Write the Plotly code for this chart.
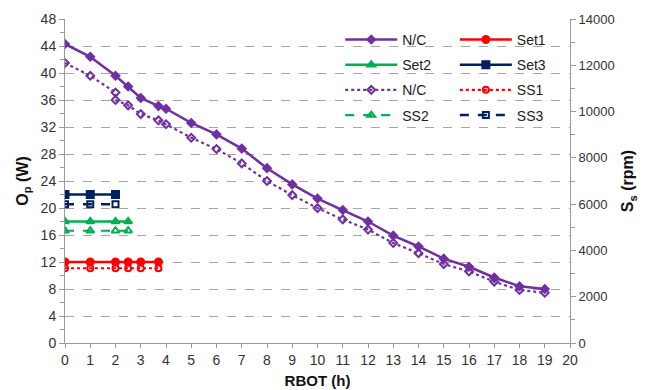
import plotly.graph_objects as go

# ---- data ----
nc_p_x = [0, 1, 2, 2.5, 3, 3.7, 4, 5, 6, 7, 8, 9, 10, 11, 12, 13, 14, 15, 16, 17, 18, 19]
nc_p_y = [44.3, 42.4, 39.6, 38.0, 36.3, 35.1, 34.7, 32.6, 30.9, 28.8, 25.9, 23.5, 21.4,
          19.7, 18.0, 15.9, 14.3, 12.5, 11.3, 9.7, 8.4, 8.0]

nc_s_x = [0, 1, 2, 2, 2.5, 3, 3.7, 4, 5, 6, 7, 8, 9, 10, 11, 12, 13, 14, 15, 16, 17, 18, 19]
nc_s_y = [12100, 11550, 10820, 10500, 10270, 9890, 9620, 9450, 8870, 8380, 7760, 7000, 6390,
          5830, 5340, 4900, 4320, 3880, 3410, 3090, 2650, 2290, 2170]

set1_x = [0, 1, 2, 2.5, 3, 3.7]
set1_y = [12, 12, 12, 12, 12, 12]
set2_x = [0, 1, 2, 2.5]
set2_y = [18, 18, 18, 18]
set3_x = [0, 1, 2]
set3_y = [22, 22, 22]

ss1_x = [0, 1, 2, 2.5, 3, 3.7]
ss1_y = [3230, 3230, 3230, 3230, 3230, 3230]
ss2_x = [0, 1, 2, 2.5]
ss2_y = [4850, 4850, 4850, 4850]
ss3_x = [0, 1, 2]
ss3_y = [5990, 5990, 5990]

x_ticks = list(range(0, 21))
y_ticks = list(range(0, 49, 4))
y2_ticks = list(range(0, 14001, 2000))

PURPLE = "#7030A0"
RED = "#FF0000"
GREEN = "#00B050"
NAVY = "#002060"

fig = go.Figure()

def add(name, x, y, color, dash, symbol, size, yaxis, legend, group, width=2.5):
    fig.add_trace(go.Scatter(
        x=x, y=y, name=name, mode="lines+markers", yaxis=yaxis,
        line=dict(color=color, width=width, dash=dash),
        marker=dict(symbol=symbol, size=size, color=color,
                    line=dict(color=color, width=2)),
        legend=legend, legendgroup=group, showlegend=True))

# column 1
add("N/C", nc_p_x, nc_p_y, PURPLE, "solid", "diamond", 6, "y", "legend", "a")
add("Set2", set2_x, set2_y, GREEN, "solid", "triangle-up", 7, "y", "legend", "b")
add("N/C", nc_s_x, nc_s_y, PURPLE, "dot", "diamond-open", 6, "y2", "legend", "c", 2.2)
add("SS2", ss2_x, ss2_y, GREEN, "dash", "triangle-up-open", 7, "y2", "legend", "d", 2.2)
# column 2
add("Set1", set1_x, set1_y, RED, "solid", "circle", 7, "y", "legend2", "e")
add("Set3", set3_x, set3_y, NAVY, "solid", "square", 7, "y", "legend2", "f")
add("SS1", ss1_x, ss1_y, RED, "dot", "circle-open", 6, "y2", "legend2", "g", 2.2)
add("SS3", ss3_x, ss3_y, NAVY, "dash", "square-open", 6, "y2", "legend2", "h", 2.5)

FONT = "Liberation Sans, Arial, sans-serif"
TICKC = "#333333"
AXC = "#9a9a9a"

leg_common = dict(bgcolor="rgba(0,0,0,0)", font=dict(family=FONT, size=14, color="#222"),
                  tracegroupgap=4, itemwidth=52,
                  xanchor="left", yanchor="top", traceorder="grouped")

fig.update_layout(
    width=655, height=390,
    margin=dict(l=65, r=85, t=19, b=47, autoexpand=False),
    paper_bgcolor="white", plot_bgcolor="white",
    font=dict(family=FONT, size=13, color=TICKC),
    legend=dict(x=0.545, y=0.985, **leg_common),
    legend2=dict(x=0.772, y=0.985, **leg_common),
    xaxis=dict(range=[0, 20], tickvals=x_ticks, showgrid=False, zeroline=False,
               automargin=False,
               showline=True, linecolor=AXC, linewidth=1,
               ticks="outside", ticklen=4, tickcolor=AXC,
               tickfont=dict(size=14, color=TICKC),
               title=dict(text="<b>RBOT (h)</b>", font=dict(size=15, color="#111"), standoff=8)),
    yaxis=dict(range=[0, 48], tickvals=y_ticks, showgrid=True, gridcolor="#a6a6a6",
               griddash="dash", gridwidth=1, zeroline=False, automargin=False,
               showline=True, linecolor=AXC, linewidth=1,
               ticks="outside", ticklen=5, tickcolor=AXC,
               minor=dict(dtick=2, tick0=0, ticks="outside", ticklen=4, tickcolor=AXC, showgrid=False),
               tickfont=dict(size=14, color=TICKC),
               title=dict(text="<b>O<sub>p</sub> (W)</b>", font=dict(size=16, color="#111"), standoff=8)),
    yaxis2=dict(range=[0, 14000], tickvals=y2_ticks, tickformat="d", overlaying="y", side="right",
                showgrid=False, zeroline=False, automargin=False,
                showline=True, linecolor=AXC, linewidth=1,
                ticks="outside", ticklen=5, tickcolor=AXC,
                minor=dict(dtick=1000, tick0=0, ticks="outside", ticklen=4, tickcolor=AXC, showgrid=False),
                tickfont=dict(size=13, color=TICKC),
                title=dict(text="<b>S<sub>s</sub> (rpm)</b>", font=dict(size=16, color="#111"), standoff=8)),
)

fig.write_html("out.html")
